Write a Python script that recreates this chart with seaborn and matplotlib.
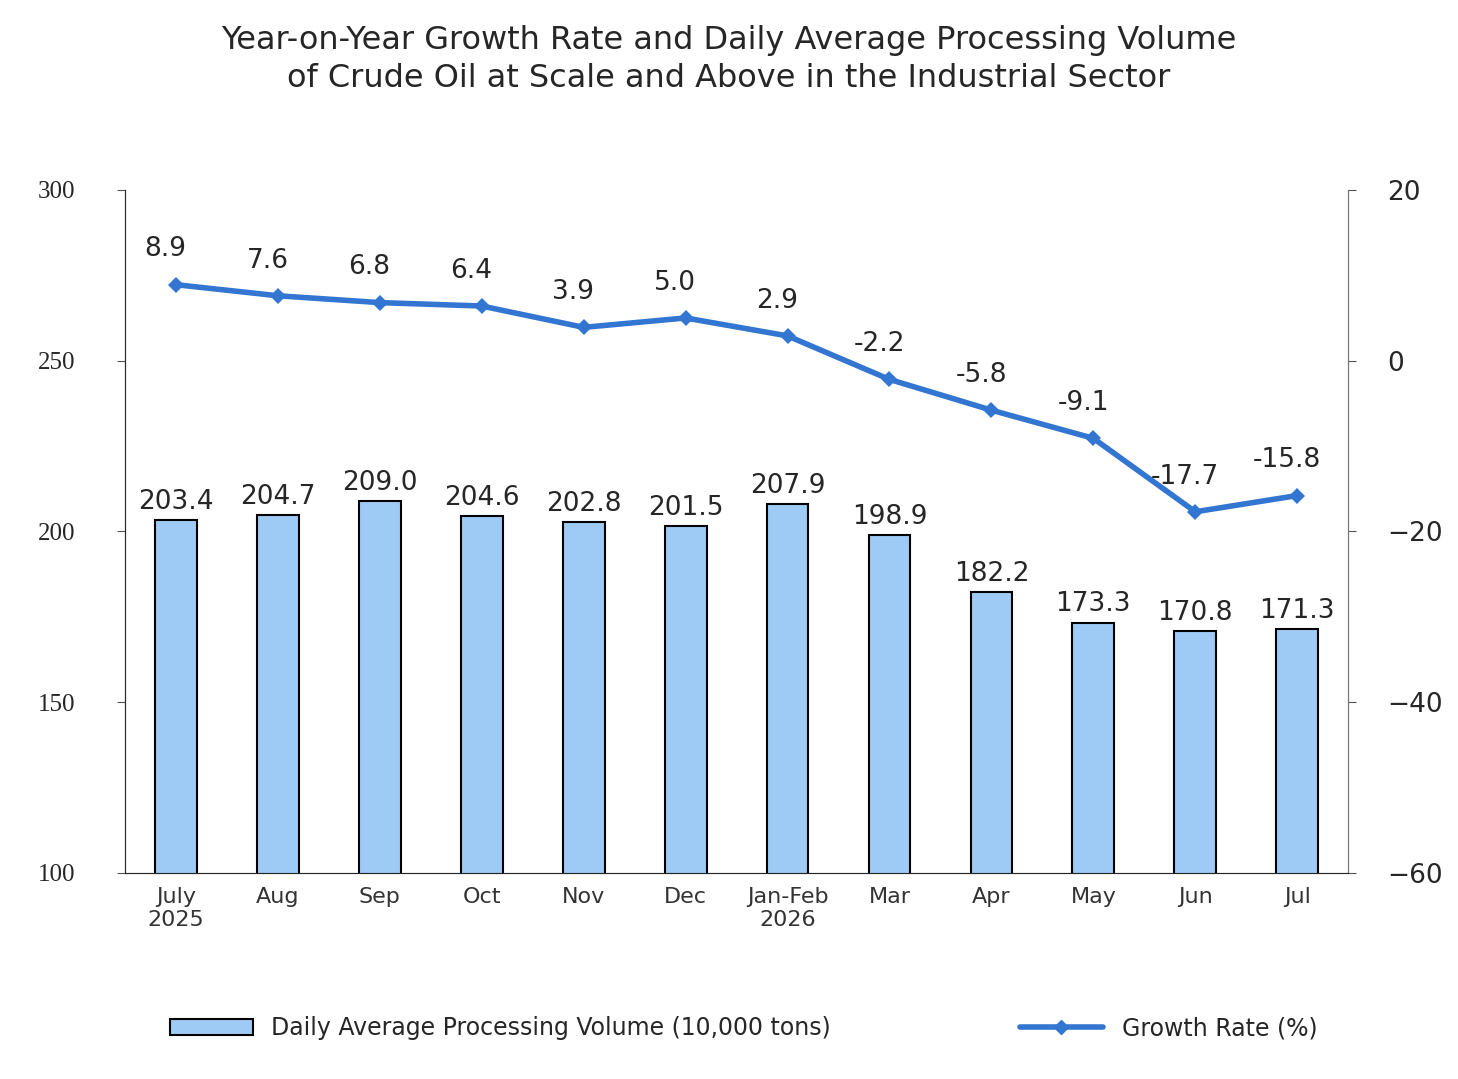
import matplotlib
matplotlib.use('Agg')
import matplotlib.pyplot as plt
from matplotlib.patches import Patch
from matplotlib.lines import Line2D
import pandas as pd
import seaborn as sns

months = ['July\n2025', 'Aug', 'Sep', 'Oct', 'Nov', 'Dec', 'Jan-Feb\n2026',
          'Mar', 'Apr', 'May', 'Jun', 'Jul']
volume = [203.4, 204.7, 209.0, 204.6, 202.8, 201.5, 207.9, 198.9, 182.2, 173.3, 170.8, 171.3]
growth = [8.9, 7.6, 6.8, 6.4, 3.9, 5.0, 2.9, -2.2, -5.8, -9.1, -17.7, -15.8]

bar_color = '#9dcbf5'
line_color = '#3276d2'

sns.set_style('white')
plt.rcParams['font.family'] = ['DejaVu Sans']

df = pd.DataFrame({'month': months, 'volume': volume, 'growth': growth})

fig = plt.figure(figsize=(14.58, 10.79), dpi=100)
ax = fig.add_axes([0.0857, 0.191, 0.839, 0.633])

sns.barplot(data=df, x='month', y='volume', ax=ax, color=bar_color,
            edgecolor='black', linewidth=1.5, width=0.41, saturation=1)
ax.set_ylim(100, 300)
ax.set_yticks([100, 150, 200, 250, 300])
ax.set_xlim(-0.5, len(months) - 0.5)
ax.set_xlabel('')
ax.set_ylabel('')
for i, v in enumerate(volume):
    ax.text(i, v + 1.5, f'{v:.1f}', ha='center', va='bottom', fontsize=19)
for lab in ax.get_yticklabels():
    lab.set_fontfamily('Liberation Serif')
    lab.set_fontsize(18)
ax.tick_params(axis='y', left=True, length=6, color='#555555', pad=30)
ax.tick_params(axis='x', labelsize=16, length=0, pad=10)
for lab in ax.get_xticklabels():
    lab.set_color('#333333')
for s in ['top']:
    ax.spines[s].set_visible(False)
for s in ['left', 'bottom', 'right']:
    ax.spines[s].set_color('#777777')

ax2 = ax.twinx()
sns.lineplot(x=list(range(len(months))), y=growth, ax=ax2, color=line_color,
             linewidth=4, marker='D', markersize=8, markeredgewidth=0)
ax2.set_ylim(-60, 20)
ax2.set_yticks([-60, -40, -20, 0, 20])
ax2.tick_params(axis='y', right=True, length=6, color='#555555', labelsize=19, pad=22)
ax2.spines['top'].set_visible(False)
ax2.spines['right'].set_color('#777777')
for i, g in enumerate(growth):
    ax2.text(i - 0.1 if i >= 10 else i - 0.1, g + 2.6, f'{g:.1f}', ha='center',
             va='bottom', fontsize=19)

fig.text(0.5, 0.945, 'Year-on-Year Growth Rate and Daily Average Processing Volume\n'
         'of Crude Oil at Scale and Above in the Industrial Sector',
         ha='center', va='center', fontsize=23, linespacing=1.3)

handles = [Patch(facecolor=bar_color, edgecolor='black', linewidth=1.5,
                 label='Daily Average Processing Volume (10,000 tons)'),
           Line2D([0], [0], color=line_color, linewidth=4, marker='D', markersize=7,
                  label='Growth Rate (%)')]
fig.legend(handles=handles, loc='center', bbox_to_anchor=(0.51, 0.047), ncol=2,
           frameon=False, fontsize=17, columnspacing=8, handlelength=3.5)

fig.savefig('out.png', dpi=100)
